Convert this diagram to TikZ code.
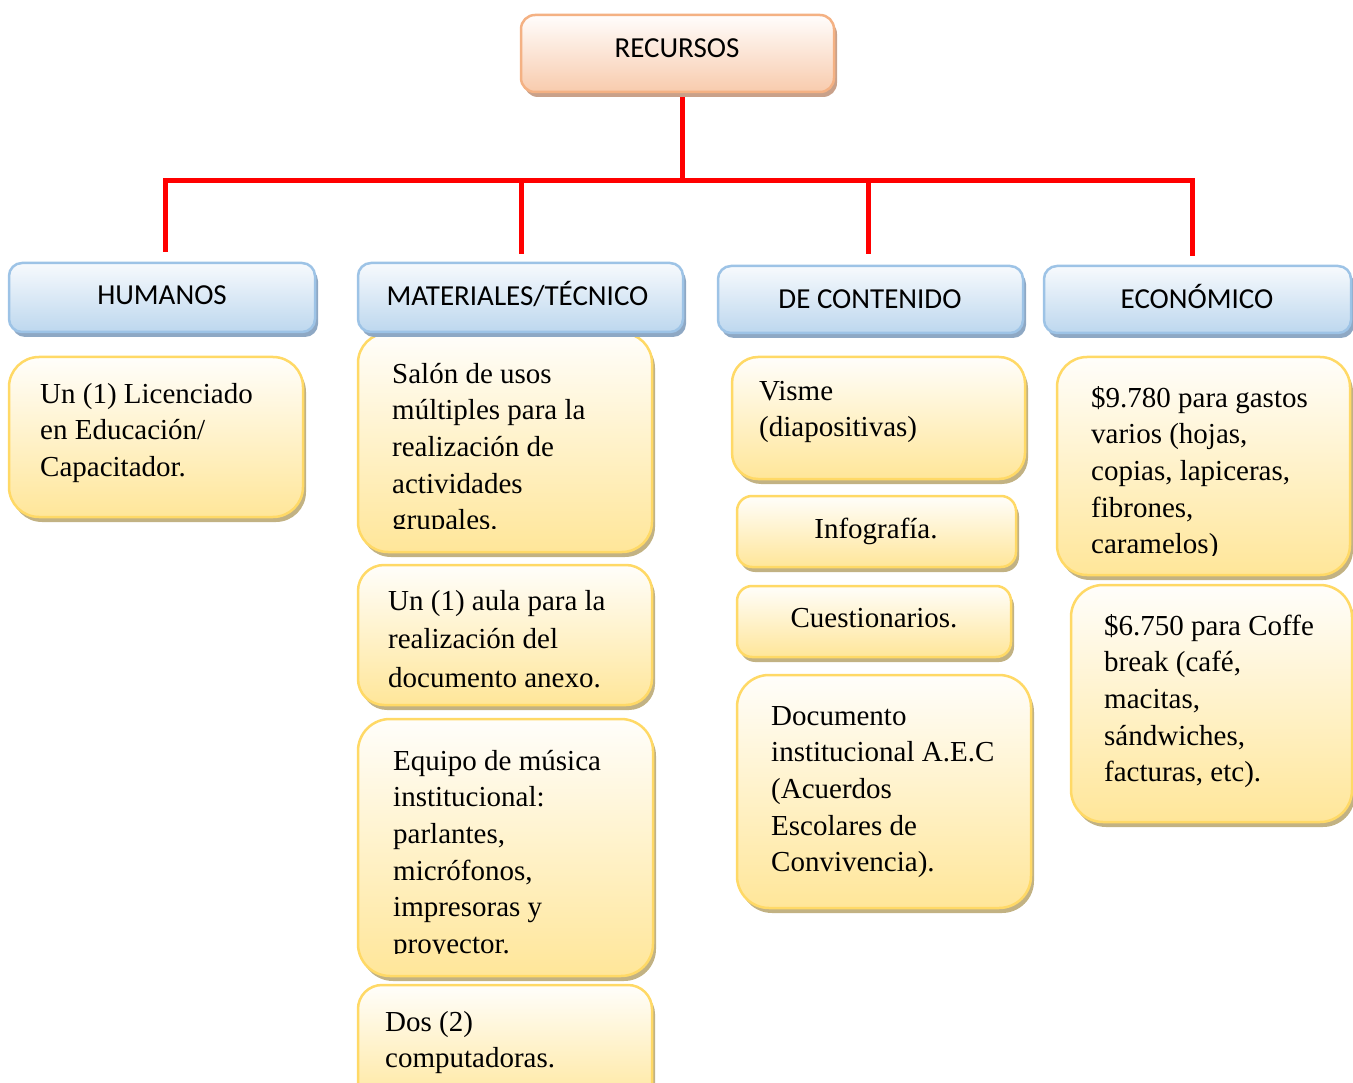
\documentclass[tikz,border=0pt]{standalone}
\usepackage{fontspec}
\setmainfont{Liberation Serif}
\newfontfamily\hdrfont{Carlito}
\usetikzlibrary{shadows}
\definecolor{ybot}{HTML}{FFE699}
\definecolor{ytop}{HTML}{FFFEFB}
\definecolor{yedge}{HTML}{FFD966}
\definecolor{ysh}{HTML}{C2B283}
\definecolor{bbot}{HTML}{BDD7EE}
\definecolor{btop}{HTML}{F7FAFD}
\definecolor{bedge}{HTML}{9DC3E6}
\definecolor{bsh}{HTML}{8EA8C4}
\definecolor{pbot}{HTML}{F8CBAD}
\definecolor{ptop}{HTML}{FFFDFC}
\definecolor{pedge}{HTML}{F4B183}
\definecolor{psh}{HTML}{C9A18A}
\definecolor{redline}{HTML}{FF0000}
\newcommand{\fl}{\rule{0pt}{24pt}}
\tikzset{
  ybox/.style={draw=yedge, line width=2.5pt, top color=ytop, bottom color=ybot,
    rectangle, inner sep=0pt,
    drop shadow={shadow xshift=3pt, shadow yshift=-5pt, fill=ysh, opacity=1}},
  bbox/.style={draw=bedge, line width=2.5pt, top color=btop, bottom color=bbot,
    rectangle, rounded corners=13pt, inner sep=0pt,
    drop shadow={shadow xshift=3pt, shadow yshift=-5pt, fill=bsh, opacity=1}},
  pbox/.style={draw=pedge, line width=2.5pt, top color=ptop, bottom color=pbot,
    rectangle, rounded corners=14pt, inner sep=0pt,
    drop shadow={shadow xshift=3pt, shadow yshift=-5pt, fill=psh, opacity=1}},
  hdr/.style={font=\hdrfont\fontsize{29}{34}\selectfont, inner sep=0pt, anchor=base},
  btxt/.style={font=\fontsize{29}{36.6}\selectfont, align=left, inner sep=0pt, anchor=north west},
  ctxt/.style={font=\fontsize{29}{36.6}\selectfont, inner sep=0pt, anchor=base},
  link/.style={draw=redline, line width=5pt, line join=miter}
}
\begin{document}
\begin{tikzpicture}[x=1pt,y=-1pt]
\useasboundingbox (0,0) rectangle (1353,1083);
% connectors
\coordinate (s0) at (682,181);
\coordinate (d1) at (165,252);
\coordinate (d2) at (521,254);
\coordinate (d3) at (868,254);
\coordinate (d4) at (1192,256);
% yellow boxes
\node[ybox, rounded corners=30pt, minimum width=294pt, minimum height=160pt] (hum1) at (156,437) {};
\node[ybox, rounded corners=30pt, minimum width=294pt, minimum height=219pt] (mat1) at (505,442.5) {};
\node[ybox, rounded corners=26pt, minimum width=294pt, minimum height=140pt] (mat2) at (505,635) {};
\node[ybox, rounded corners=32pt, minimum width=295pt, minimum height=257pt] (mat3) at (505.5,847.5) {};
\node[ybox, rounded corners=24pt, minimum width=294pt, minimum height=125pt] (mat4) at (505,1047.5) {};
\node[ybox, rounded corners=26pt, minimum width=293pt, minimum height=122pt] (con1) at (878.5,418) {};
\node[ybox, rounded corners=15pt, minimum width=279pt, minimum height=71pt] (con2) at (876.5,531.5) {};
\node[ybox, rounded corners=15pt, minimum width=274pt, minimum height=71pt] (con3) at (874,621.5) {};
\node[ybox, rounded corners=32pt, minimum width=294pt, minimum height=233pt] (con4) at (884,791.5) {};
\node[ybox, rounded corners=30pt, minimum width=293pt, minimum height=218pt] (eco1) at (1203.5,466) {};
\node[ybox, rounded corners=32pt, minimum width=281pt, minimum height=237pt] (eco2) at (1211.5,703.5) {};
% red connectors
\draw[link] (s0 |- 0,92) -- (s0);
\draw[link] (d1) -- (d1 |- s0) -- (d4 |- s0) -- (d4);
\draw[link] (d2) -- (d2 |- s0);
\draw[link] (d3) -- (d3 |- s0);
% header boxes
\node[pbox, minimum width=313pt, minimum height=77pt] (rec) at (677.5,53.5) {};
\node[bbox, minimum width=306pt, minimum height=69pt] (hhum) at (162,297.5) {};
\node[bbox, minimum width=325pt, minimum height=69pt] (hmat) at (520.5,297.5) {};
\node[bbox, minimum width=305pt, minimum height=67pt] (hcon) at (870.5,299.5) {};
\node[bbox, minimum width=307pt, minimum height=67pt] (heco) at (1197.5,299.5) {};
% header texts
\node[hdr] (trec) at (677,58) {RECURSOS};
\node[hdr] (thum) at (162,305) {HUMANOS};
\node[hdr] (tmat) at (517.5,306) {MATERIALES/TÉCNICO};
\node[hdr] (tcon) at (870,309) {DE CONTENIDO};
\node[hdr] (teco) at (1197,309) {ECONÓMICO};
% body texts
\node[btxt] (thum1) at (40,403-24) {\fl Un (1) Licenciado\\en Educación/\\Capacitador.};
\begin{scope}
\clip (350,340) rectangle (660,528);
\node[btxt] (tmat1) at (392,383-24) {\fl Salón de usos\\múltiples para la\\realización de\\actividades\\grupales.};
\end{scope}
\node[btxt, font=\fontsize{29}{38.5}\selectfont] (tmat2) at (388,610-24) {\fl Un (1) aula para la\\realización del\\documento anexo.};
\begin{scope}
\clip (350,725) rectangle (660,953);
\node[btxt] (tmat3) at (393,770-24) {\fl Equipo de música\\institucional:\\parlantes,\\micrófonos,\\impresoras y\\proyector.};
\end{scope}
\node[btxt] (tmat4) at (385,1031-24) {\fl Dos (2)\\computadoras.};
\node[btxt] (tcon1) at (759,400-24) {\fl Visme\\(diapositivas)};
\node[ctxt] (tcon2) at (876,538) {Infografía.};
\node[ctxt] (tcon3) at (874,627) {Cuestionarios.};
\node[btxt] (tcon4) at (771,725-24) {\fl Documento\\institucional A.E.C\\(Acuerdos\\Escolares de\\Convivencia).};
\begin{scope}
\clip (1060,360) rectangle (1350,555);
\node[btxt] (teco1) at (1091,407-24) {\fl \$9.780 para gastos\\varios (hojas,\\copias, lapiceras,\\fibrones,\\caramelos)};
\end{scope}
\node[btxt] (teco2) at (1104,635-24) {\fl \$6.750 para Coffe\\break (café,\\macitas,\\sándwiches,\\facturas, etc).};
\end{tikzpicture}
\end{document}
